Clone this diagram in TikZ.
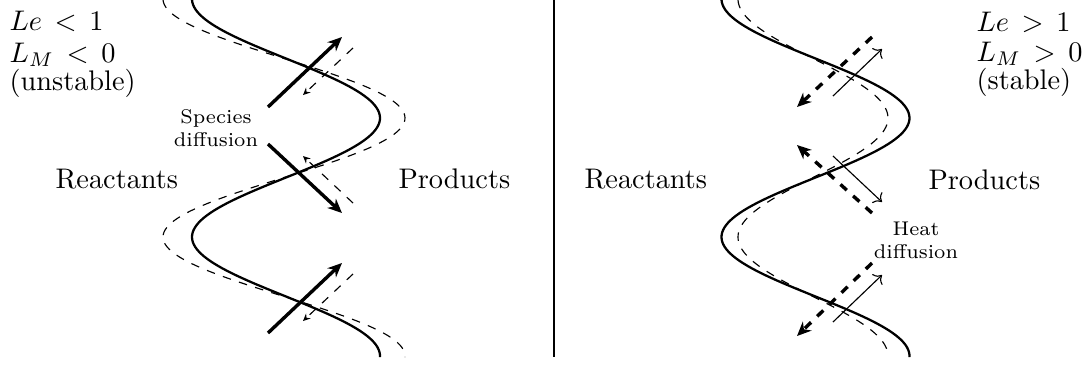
\documentclass[tikz,border=0pt]{standalone}
\usetikzlibrary{arrows.meta}
\begin{document}
\begin{tikzpicture}[x=0.3528pt,y=-0.3528pt,
  lbl/.style={inner sep=0pt,anchor=base west},
  small/.style={inner sep=0pt,align=center,font=\scriptsize},
  front/.style={thick},
  pert/.style={thin,dashed},
  bigarrow/.style={very thick,-{Stealth[length=5pt,width=4.4pt,inset=1.6pt]}},
  bigdash/.style={very thick,dashed,-{Stealth[length=5pt,width=4.4pt,inset=1.6pt]}},
  smallarrow/.style={thin,->},
  smalldash/.style={thin,dashed,-{Stealth[length=2.6pt,width=2.4pt,inset=0.9pt]}}]
\useasboundingbox (0,0) rectangle (1091,369);

% divider
\coordinate (dtop) at (554,0);
\coordinate (dbot) at (554,357);
\draw (dtop) -- (dbot);

% ---------- left panel ----------
\draw[front] plot[domain=0:357,samples=150,variable=\t] ({286+94*cos(1.51261*(\t-118))},\t);
\draw[pert] plot[domain=0:357,samples=150,variable=\t] ({284+121*cos(1.51261*(\t-118))},\t);

\coordinate (A1s) at (268,107); \coordinate (A1e) at (342,37);
\coordinate (A2s) at (268,144); \coordinate (A2e) at (342,213);
\coordinate (A3s) at (268,333); \coordinate (A3e) at (342,263);
\draw[bigarrow] (A1s) -- (A1e);
\draw[bigarrow] (A2s) -- (A2e);
\draw[bigarrow] (A3s) -- (A3e);

\coordinate (a1s) at (353,48);  \coordinate (a1e) at (303,95);
\coordinate (a2s) at (353,203); \coordinate (a2e) at (303,156);
\coordinate (a3s) at (353,274); \coordinate (a3e) at (303,321);
\draw[smalldash] (a1s) -- (a1e);
\draw[smalldash] (a2s) -- (a2e);
\draw[smalldash] (a3s) -- (a3e);

\node[lbl] (le1) at (9,30) {$Le\,<\,1$};
\node[lbl] (lm1) at (9,62) {$L_M\,<\,0$};
\node[lbl] (st1) at (9,90) {(unstable)};
\node[lbl] (re1) at (55,188) {Reactants};
\node[lbl] (pr1) at (398,188) {Products};
\node[small] (sd) at (216,128) {Species\\diffusion};

% ---------- right panel ----------
\draw[front] plot[domain=0:357,samples=150,variable=\t] ({815.5+94*cos(1.51261*(\t-118))},\t);
\draw[pert] plot[domain=0:357,samples=150,variable=\t] ({813+75*cos(1.51261*(\t-118))},\t);

\coordinate (B1s) at (872,37);  \coordinate (B1e) at (797,107);
\coordinate (B2s) at (872,213); \coordinate (B2e) at (797,145);
\coordinate (B3s) at (872,263); \coordinate (B3e) at (797,336);
\draw[bigdash] (B1s) -- (B1e);
\draw[bigdash] (B2s) -- (B2e);
\draw[bigdash] (B3s) -- (B3e);

\coordinate (b1s) at (833,96);  \coordinate (b1e) at (882,49);
\coordinate (b2s) at (833,156); \coordinate (b2e) at (882,202);
\coordinate (b3s) at (833,322); \coordinate (b3e) at (882,275);
\draw[smallarrow] (b1s) -- (b1e);
\draw[smallarrow] (b2s) -- (b2e);
\draw[smallarrow] (b3s) -- (b3e);

\node[lbl] (le2) at (976,31) {$Le\,>\,1$};
\node[lbl] (lm2) at (976,61) {$L_M\,>\,0$};
\node[lbl] (st2) at (976,89) {(stable)};
\node[lbl] (re2) at (584,188) {Reactants};
\node[lbl] (pr2) at (928,189) {Products};
\node[small] (hd) at (916,240) {Heat\\diffusion};
\end{tikzpicture}
\end{document}
